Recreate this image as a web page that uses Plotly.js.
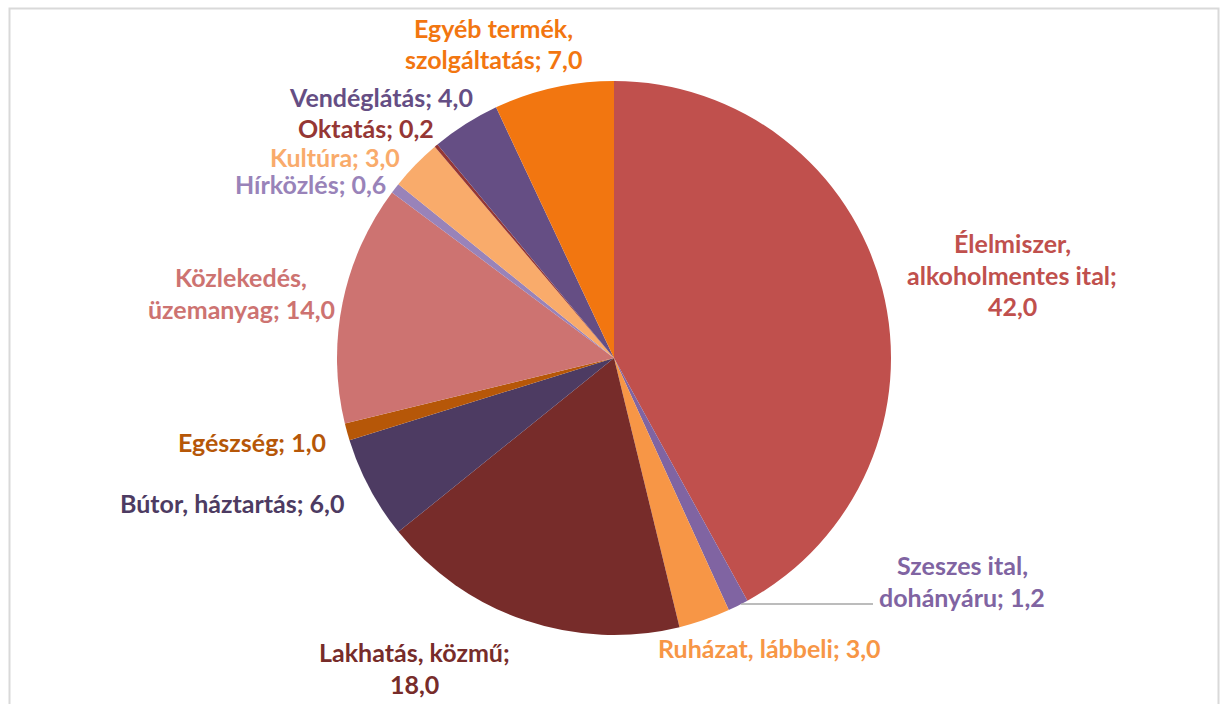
<!DOCTYPE html>
<html>
<head>
<meta charset="utf-8">
<script src="https://cdn.plot.ly/plotly-3.0.1.min.js"></script>
<style>html,body{margin:0;padding:0;background:#fff;}#chart{width:1223px;height:704px;}</style>
</head>
<body>
<div id="chart"></div>
<script>
const categories = ["Élelmiszer, alkoholmentes ital", "Szeszes ital, dohányáru", "Ruházat, lábbeli", "Lakhatás, közmű", "Bútor, háztartás", "Egészség", "Közlekedés, üzemanyag", "Hírközlés", "Kultúra", "Oktatás", "Vendéglátás", "Egyéb termék, szolgáltatás"];
const values = [42.0, 1.2, 3.0, 18.0, 6.0, 1.0, 14.0, 0.6, 3.0, 0.2, 4.0, 7.0];
const sliceColors = ["#c0504d", "#8064a2", "#f79646", "#772c2a", "#4d3b62", "#b65708", "#cd7371", "#9983b9", "#f9ab6b", "#953735", "#654e84", "#f27610"];

// label layout: center pixel position of first line, and where to break lines
const labelLayout = [
  {x: 1012, y: 243, comma: true, semi: true},
  {x: 962, y: 565, comma: true, semi: false},
  {x: 769, y: 648, comma: false, semi: false},
  {x: 414, y: 652, comma: false, semi: true},
  {x: 232, y: 503, comma: false, semi: false},
  {x: 252, y: 442, comma: false, semi: false},
  {x: 241, y: 277, comma: true, semi: false},
  {x: 310, y: 184, comma: false, semi: false},
  {x: 335, y: 157, comma: false, semi: false},
  {x: 366, y: 128, comma: false, semi: false},
  {x: 381, y: 97, comma: false, semi: false},
  {x: 493, y: 28, comma: true, semi: false}
];

const W = 1223, H = 704, LINE = 31.5;
const fmt = v => v.toFixed(1).replace('.', ',');

const annotations = [];
categories.forEach((name, i) => {
  const L = labelLayout[i];
  let lines;
  if (L.comma) {
    const k = name.indexOf(', ');
    lines = [name.slice(0, k + 1), name.slice(k + 2)];
  } else {
    lines = [name];
  }
  const last = lines.length - 1;
  if (L.semi) {
    lines[last] = lines[last] + ';';
    lines.push(fmt(values[i]));
  } else {
    lines[last] = lines[last] + '; ' + fmt(values[i]);
  }
  lines.forEach((t, j) => {
    annotations.push({
      xref: 'paper', yref: 'paper',
      x: L.x / W, y: 1 - (L.y + j * LINE) / H,
      xanchor: 'center', yanchor: 'middle',
      text: '<b>' + t + '</b>', showarrow: false,
      font: {family: 'Lato, sans-serif', size: 25, color: sliceColors[i], weight: 700}
    });
  });
});

const cx = 614, cy = 358, r = 277;
const trace = {
  type: 'pie',
  labels: categories,
  values: values,
  sort: false,
  direction: 'clockwise',
  rotation: 0,
  textinfo: 'none',
  hoverinfo: 'label+value',
  marker: {colors: sliceColors, line: {width: 0}},
  domain: {x: [(cx - r) / W, (cx + r) / W], y: [1 - (cy + r) / H, 1 - (cy - r) / H]},
  showlegend: false
};

const layout = {
  width: W, height: H,
  margin: {l: 0, r: 0, t: 0, b: 0},
  paper_bgcolor: '#ffffff',
  showlegend: false,
  annotations: annotations,
  shapes: [
    {type: 'rect', xref: 'paper', yref: 'paper', x0: 9.5 / W, x1: 1218.5 / W, y0: -0.05, y1: 1 - 8.5 / H,
     line: {color: '#d9d9d9', width: 2}, fillcolor: 'rgba(0,0,0,0)'},
    {type: 'line', xref: 'paper', yref: 'paper', x0: 741 / W, x1: 873 / W, y0: 1 - 604 / H, y1: 1 - 604 / H,
     line: {color: '#a6a6a6', width: 1.5}}
  ]
};

Plotly.newPlot('chart', [trace], layout, {displayModeBar: false, staticPlot: true});
</script>
</body>
</html>
